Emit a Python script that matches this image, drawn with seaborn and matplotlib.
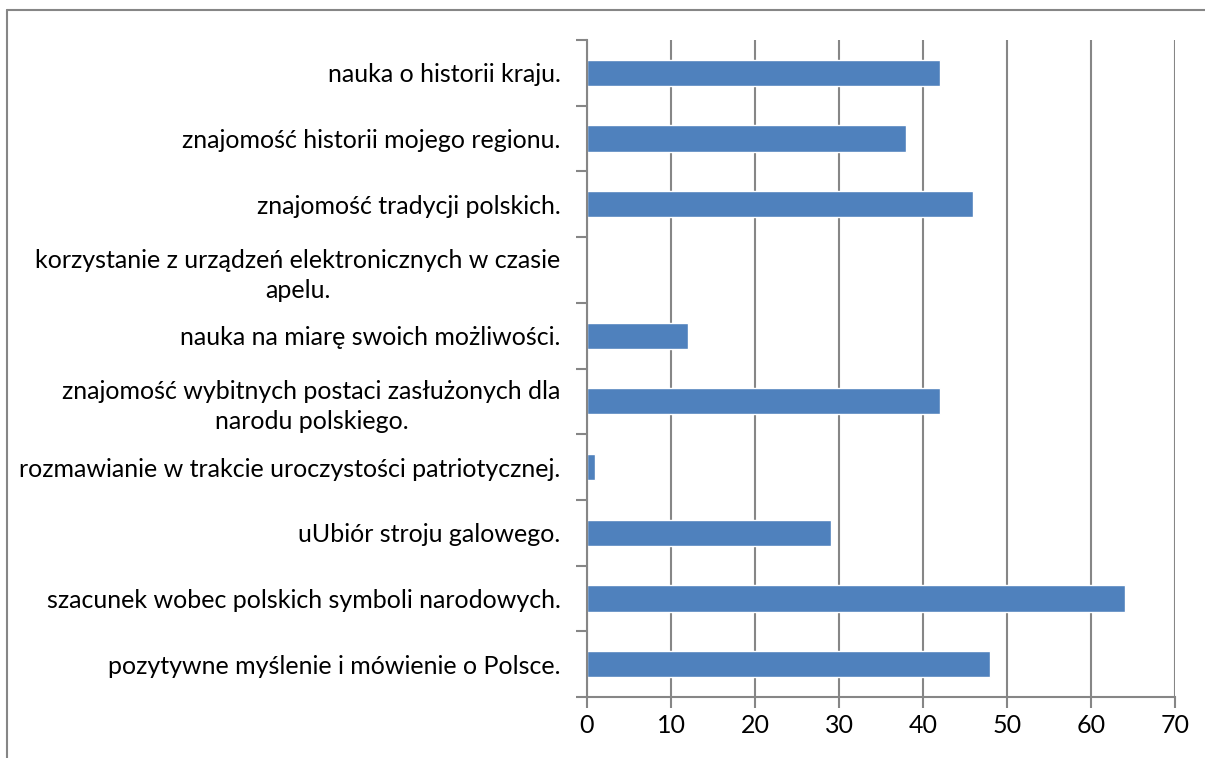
"""Horizontal bar chart: survey answers about patriotic attitudes."""

import matplotlib.pyplot as plt
import seaborn as sns
from matplotlib.lines import Line2D
from matplotlib.ticker import FixedLocator

categories = [
    "nauka o historii kraju.",
    "znajomość historii mojego regionu.",
    "znajomość tradycji polskich.",
    "korzystanie z urządzeń elektronicznych w czasie\napelu.",
    "nauka na miarę swoich możliwości.",
    "znajomość wybitnych postaci zasłużonych dla\nnarodu polskiego.",
    "rozmawianie w trakcie uroczystości patriotycznej.",
    "uUbiór stroju galowego.",
    "szacunek wobec polskich symboli narodowych.",
    "pozytywne myślenie i mówienie o Polsce.",
]
values = [42, 38, 46, 0, 12, 42, 1, 29, 64, 48]
x_ticks = [0, 10, 20, 30, 40, 50, 60, 70]

BAR_COLOR = "#4F81BD"
GRID_COLOR = "#868686"
FONT_SIZE = 18

sns.set_style("white")
plt.rcParams["font.family"] = ["Lato", "DejaVu Sans"]

fig = plt.figure(figsize=(12.05, 7.58), dpi=100)
ax = fig.add_axes([587 / 1205, 61 / 758, (1175 - 587) / 1205, (697 - 40) / 758])

sns.barplot(x=values, y=categories, color=BAR_COLOR, width=0.4,
            saturation=1, orient="h", ax=ax)

ax.set_xlim(0, 70)
ax.set_ylim(len(categories) - 0.5, -0.5)
ax.set_xticks(x_ticks)
ax.xaxis.grid(True, color=GRID_COLOR, linewidth=1.5)
ax.set_axisbelow(True)

for side in ("top", "right"):
    ax.spines[side].set_visible(False)
for side in ("left", "bottom"):
    ax.spines[side].set_color(GRID_COLOR)
    ax.spines[side].set_linewidth(1.5)

ax.tick_params(axis="x", direction="out", length=8, width=1.5, color=GRID_COLOR,
               labelsize=FONT_SIZE, pad=4, bottom=True)
ax.tick_params(axis="y", which="major", length=0, labelsize=FONT_SIZE, pad=19)
ax.yaxis.set_minor_locator(FixedLocator([i - 0.5 for i in range(len(categories) + 1)]))
ax.tick_params(axis="y", which="minor", direction="out", length=8, width=1.5,
               color=GRID_COLOR, left=True)
for label in ax.get_yticklabels():
    label.set_multialignment("center")
    label.set_linespacing(1.35)
    label.set_color("black")
for label in ax.get_xticklabels():
    label.set_color("black")
ax.set_xlabel("")
ax.set_ylabel("")

# outer chart frame (left and top edges visible in the crop)
fig.add_artist(Line2D([7 / 1205, 7 / 1205], [0, 1 - 10 / 758],
                      transform=fig.transFigure, color=GRID_COLOR, linewidth=1.5))
fig.add_artist(Line2D([7 / 1205, 1], [1 - 10 / 758, 1 - 10 / 758],
                      transform=fig.transFigure, color=GRID_COLOR, linewidth=1.5))

fig.savefig("out.png", dpi=100)
